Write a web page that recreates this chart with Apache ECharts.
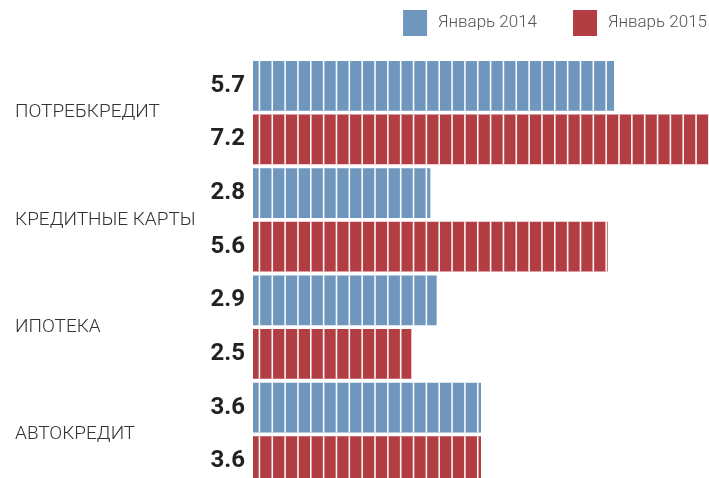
<!DOCTYPE html>
<html>
<head>
<meta charset="utf-8">
<script src="https://cdn.jsdelivr.net/npm/echarts@6/dist/echarts.min.js"></script>
<style>
  html, body { margin: 0; padding: 0; background: #fff; }
  #myCharts { width: 709px; height: 478px; }
</style>
</head>
<body>
<div id="myCharts"></div>
<script>
  // данные
  var categories = ['ПОТРЕБКРЕДИТ', 'КРЕДИТНЫЕ КАРТЫ', 'ИПОТЕКА', 'АВТОКРЕДИТ'];
  var seriesNames = ['Январь 2014', 'Январь 2015'];
  var values2014 = [5.7, 2.8, 2.9, 3.6];
  var values2015 = [7.2, 5.6, 2.5, 3.6];

  var blue = 'rgb(111,150,188)';
  var red = 'rgb(178,62,68)';

  var myChart = echarts.init(document.getElementById('myCharts'));

  // белые полоски поверх столбцов
  function stripes(name, data) {
    return {
      name: name,
      type: 'pictorialBar',
      symbol: 'rect',
      symbolSize: [1.6, '100%'],
      symbolRepeat: 36,
      symbolMargin: '0!',
      symbolClip: true,
      symbolBoundingData: 7.3,
      barGap: '8%',
      barCategoryGap: '3.7%',
      itemStyle: { color: 'rgba(255,255,255,0.95)' },
      z: 3,
      silent: true,
      data: data
    };
  }

  function bars(name, data, color) {
    return {
      name: name,
      type: 'bar',
      barGap: '8%',
      barCategoryGap: '3.7%',
      itemStyle: { color: color },
      label: {
        show: true,
        position: 'left',
        distance: 8,
        padding: [5, 0, 0, 0],
        fontFamily: 'Roboto',
        fontWeight: 'bold',
        fontSize: 24,
        color: '#222'
      },
      data: data
    };
  }

  var option = {
    animation: false,
    legend: {
      data: seriesNames,
      right: -3,
      top: 5,
      icon: 'rect',
      itemWidth: 24,
      itemHeight: 26,
      itemGap: 36,
      textStyle: {
        fontFamily: 'Roboto',
        fontWeight: 300,
        fontSize: 17,
        color: '#555',
        padding: [0, 0, 0, 6]
      }
    },
    grid: {
      left: 253,
      right: 0,
      top: 59,
      bottom: -10,
      outerBoundsMode: 'none'
    },
    xAxis: {
      type: 'value',
      min: 0,
      max: 7.2,
      show: false
    },
    yAxis: {
      type: 'category',
      inverse: true,
      data: categories,
      axisLine: { show: false },
      axisTick: { show: false },
      splitLine: { show: false },
      axisLabel: {
        align: 'left',
        margin: 238,
        padding: [5, 0, 0, 0],
        fontFamily: 'Roboto',
        fontWeight: 300,
        fontSize: 19,
        color: '#333'
      }
    },
    series: [
      bars(seriesNames[0], values2014, blue),
      bars(seriesNames[1], values2015, red),
      stripes('s2014', values2014),
      stripes('s2015', values2015)
    ]
  };
  myChart.setOption(option);
</script>
</body>
</html>
